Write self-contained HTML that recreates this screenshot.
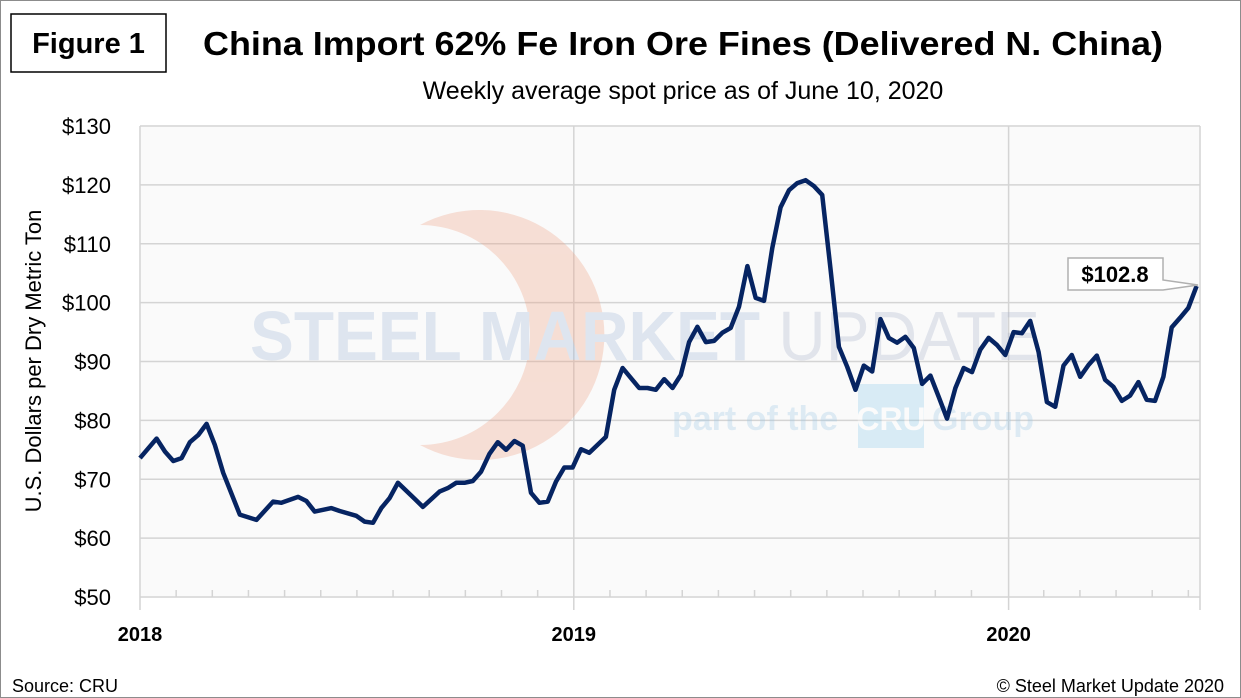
<!DOCTYPE html>
<html><head><meta charset="utf-8"><style>
body{margin:0;background:#fff;}
#wrap{position:relative;width:1241px;height:698px;overflow:hidden;font-family:"Liberation Sans",sans-serif;}
</style></head><body>
<div id="wrap">
<svg id="svg" width="1241" height="698" xmlns="http://www.w3.org/2000/svg" style="position:absolute;left:0;top:0;font-family:'Liberation Sans',sans-serif">
  <rect x="0.5" y="0.5" width="1240" height="697" fill="#fff" stroke="#8c8c8c"/>
  <rect x="11" y="14" width="155" height="58" fill="#fff" stroke="#000" stroke-width="1.5"/>
  <text x="88.5" y="53" text-anchor="middle" font-size="29" font-weight="bold">Figure 1</text>
  <text x="683" y="55" text-anchor="middle" font-size="33" font-weight="bold" textLength="960" lengthAdjust="spacingAndGlyphs">China Import 62% Fe Iron Ore Fines (Delivered N. China)</text>
  <text x="683" y="99" text-anchor="middle" font-size="25">Weekly average spot price as of June 10, 2020</text>
  <rect x="140" y="126" width="1060" height="471" fill="#fafafa"/>
  <g id="grid"></g>
  <g id="wm" opacity="0.3">
    <path d="M 420 225 A 110 110 0 1 1 420 445 A 125 125 0 1 0 420 225 Z" fill="#f0a080"/>
    <text x="250" y="360" font-size="70" font-weight="bold" fill="#9fb6d6" textLength="790" lengthAdjust="spacingAndGlyphs">STEEL MARKET <tspan font-weight="normal" fill="#a8b2cc">UPDATE</tspan></text>
    <text x="672" y="430" font-size="34" font-weight="bold" fill="#9cc8e6">part of the</text>
    <rect x="858" y="384" width="66" height="64" fill="#8ccbea"/>
    <text x="891" y="430" text-anchor="middle" font-size="32" font-weight="bold" fill="#fff">CRU</text>
    <text x="932" y="430" font-size="34" font-weight="bold" fill="#9cc8e6">Group</text>
  </g>
  <g id="axes"></g>
  <path id="line" fill="none" stroke="#062462" stroke-width="4.5" stroke-linejoin="round"/>
  <g>
    <path d="M1068 258 H1163 V280 L1198 285 L1163 290 H1068 Z" fill="#fff" stroke="#b0b0b0" stroke-width="1.5" id="callout"/>
    <text x="1115" y="282" text-anchor="middle" font-size="22" font-weight="bold">$102.8</text>
  </g>
  <text transform="translate(41,361) rotate(-90)" text-anchor="middle" font-size="22">U.S. Dollars per Dry Metric Ton</text>
  <text x="12" y="692" font-size="18">Source: CRU</text>
  <text x="1224" y="692" text-anchor="end" font-size="18">© Steel Market Update 2020</text>
</svg>
</div>
<script>
const weeks=[0,2,3,4,5,6,7,8,9,10,12,14,16,17,19,20,21,23,24,26,27,28,29,30,31,33,34,36,37,38,39,40,41,42,43,44,45,46,47,48,49,50,51,52,53,54,56,57,58,60,61,62,63,64,65,66,67,68,69,70,71,72,73,74,75,76,77,78,79,80,81,82,83,84,85,86,87,88,89,90,91,92,93,94,95,96,97,98,99,100,101,102,103,104,105,106,107,108,109,110,111,112,113,114,115,116,117,118,119,120,121,122,123,124,125,126,127];
const prices=[73.6,76.9,74.7,73.1,73.6,76.3,77.5,79.4,75.8,71.1,64,63.1,66.2,66,67,66.3,64.5,65.1,64.6,63.8,62.8,62.6,65.1,66.8,69.4,66.7,65.3,67.9,68.5,69.4,69.4,69.7,71.3,74.3,76.3,75,76.5,75.7,67.7,66,66.2,69.6,72,72,75.1,74.5,77.2,85.2,88.9,85.5,85.5,85.2,87,85.5,87.7,93.3,95.9,93.3,93.5,94.9,95.7,99.3,106.2,100.8,100.3,109.3,116.2,119.1,120.3,120.8,119.8,118.3,105.6,92.5,89.1,85.2,89.3,88.3,97.2,94,93.2,94.2,92.3,86.2,87.6,84,80.3,85.5,88.9,88.2,92,94,92.8,91.1,95,94.8,96.9,91.6,83.1,82.3,89.3,91.1,87.4,89.4,91,86.9,85.7,83.3,84.2,86.5,83.5,83.3,87.4,95.8,97.4,99.1,102.8];
const yTicks=[50,60,70,80,90,100,110,120,130];
const yearLabels=["2018","2019","2020"];
const yearWeeks=[0,52.14,104.4];
const ns="http://www.w3.org/2000/svg";
const X=w=>140+w*8.32;
const Y=v=>597-(v-50)*5.8875;
const grid=document.getElementById('grid'),axes=document.getElementById('axes');
function mk(tag,attrs,parent){const e=document.createElementNS(ns,tag);for(const k in attrs)e.setAttribute(k,attrs[k]);parent.appendChild(e);return e;}
yTicks.forEach(v=>{
  const l=mk('line',{x1:140,x2:1200,y1:Y(v),y2:Y(v),stroke:'#d4d4d4','stroke-width':1.5},grid);
  
  
  const t=mk('text',{x:111,y:Y(v)+8,'text-anchor':'end','font-size':22},axes);
  t.textContent='$'+v;
  
  
});
yearWeeks.forEach((w,i)=>{
  const l=mk('line',{x1:X(w),x2:X(w),y1:126,y2:610,stroke:'#d4d4d4','stroke-width':1.5},grid);
  
  
  const t=mk('text',{x:X(w),y:641,'text-anchor':'middle','font-size':20,'font-weight':'bold'},axes);
  t.textContent=yearLabels[i];
  
  
});
mk('line',{x1:1200,x2:1200,y1:126,y2:610,stroke:'#d4d4d4','stroke-width':1.5},grid);
for(let m=1;m<30;m++){
  if(m%12===0)continue;
  const x=X(m*52.14/12); if(x>1200)break;
  const l=mk('line',{x1:x,x2:x,y1:590,y2:597,stroke:'#d4d4d4','stroke-width':1.5},grid);
  
  
}
document.getElementById('line').setAttribute('d',weeks.map((w,i)=>(i?'L':'M')+X(w).toFixed(1)+' '+Y(prices[i]).toFixed(1)).join(' '));
</script>
</body></html>
